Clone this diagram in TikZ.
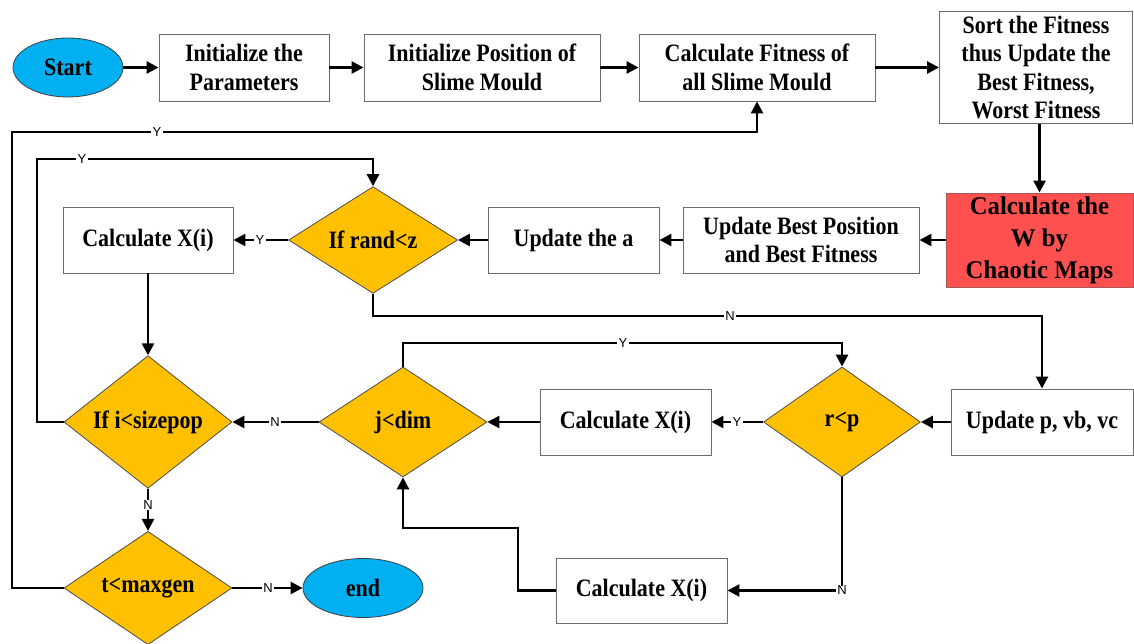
\documentclass[tikz,border=0pt]{standalone}
\usepackage{fontspec}
\setmainfont{Liberation Serif}[FakeStretch=0.88]
\newfontfamily\widefont{Liberation Serif}[FakeStretch=0.97]
\setsansfont{Liberation Sans}
\usetikzlibrary{shapes.geometric,arrows.meta}

\definecolor{decgold}{HTML}{FFC000}
\definecolor{termblue}{HTML}{00B0F0}
\definecolor{chaosred}{HTML}{FF5050}

\begin{document}
\begin{tikzpicture}[x=1pt,y=-1pt,
  every node/.style={font=\bfseries\fontsize{25}{28.5}\selectfont, text=black},
  proc/.style={rectangle, draw=gray!85!black, line width=0.9pt, fill=white, align=center, inner sep=0pt},
  decision/.style={diamond, draw=gray!60!black, line width=0.8pt, fill=decgold, inner sep=0pt,
                   minimum width=168pt, minimum height=110pt},
  terminal/.style={ellipse, draw=black!75, line width=0.8pt, fill=termblue, inner sep=0pt},
  flow/.style={line width=2.6pt, -{Triangle[length=12pt,width=12pt]}},
  cond/.style={font=\sffamily\fontsize{13}{13}\selectfont, fill=white, inner xsep=1.2pt, inner ysep=0.5pt}
]
\useasboundingbox (0,0) rectangle (1134,644);

% top row
\node[terminal, minimum width=110pt, minimum height=59pt] (start) at (68,67.5) {Start};
\node[proc, minimum width=170pt, minimum height=67pt] (init) at (244,67.5) {Initialize the\\Parameters};
\node[proc, minimum width=236pt, minimum height=67pt] (initpos) at (482,67.5) {Initialize Position of\\Slime Mould};
\node[proc, minimum width=236pt, minimum height=67pt] (calcfit) at (757,67.5) {Calculate Fitness of\\all Slime Mould};
\node[proc, minimum width=193pt, minimum height=112pt] (sort) at (1036,67.5) {Sort the Fitness\\thus Update the\\Best Fitness,\\Worst Fitness};

% second row
\node[proc, fill=chaosred, draw=gray!70!red, minimum width=187pt, minimum height=94pt,
      font=\widefont\bfseries\fontsize{25.5}{32}\selectfont] (chaos) at (1039.5,240) {Calculate the\\W by\\Chaotic Maps};
\node[proc, minimum width=236pt, minimum height=66pt] (upbest) at (801,240) {Update Best Position\\and Best Fitness};
\node[proc, minimum width=171pt, minimum height=66pt] (upa) at (573.5,240) {Update the a};
\node[decision, minimum width=169pt, minimum height=101pt] (rand) at (373,240) {If rand<z};
\node[proc, minimum width=170pt, minimum height=66pt] (calcx1) at (148,240) {Calculate X(i)};

% third row
\node[decision] (sizepop) at (148,422) {If i<sizepop};
\node[decision] (jdim) at (403,422) {j<dim};
\node[proc, minimum width=171pt, minimum height=66pt] (calcx2) at (625.5,422) {Calculate X(i)};
\node[decision, minimum width=157pt] (rp) at (842,422) {r<p};
\node[proc, minimum width=182pt, minimum height=66pt] (updp) at (1042,422) {Update p, vb, vc};

% bottom row
\node[decision] (tmax) at (148,588) {t<maxgen};
\node[terminal, minimum width=120pt, minimum height=59pt] (end) at (363,588) {end};
\node[proc, minimum width=171pt, minimum height=65pt] (calcx3) at (641.5,590.5) {Calculate X(i)};

% bend points of the loops
\coordinate (outerloop) at (12,132);
\coordinate (innerloop) at (37,159);
\coordinate (nrow) at (0,316);
\coordinate (yrow) at (0,343);
\coordinate (lowbend) at (518,528);

% main sequence
\draw[flow] (start.east) -- (init.west);
\draw[flow] (init.east) -- (initpos.west);
\draw[flow] (initpos.east) -- (calcfit.west);
\draw[flow] (calcfit.east) -- (sort.west);
\draw[flow] (chaos.north |- sort.south) -- (chaos.north);
\draw[flow] (chaos.west) -- (upbest.east);
\draw[flow] (upbest.west) -- (upa.east);
\draw[flow] (upa.west) -- (rand.east);
\draw[flow] (rand.west) -- (calcx1.east);
\draw[flow] (calcx1.south) -- (sizepop.north);

% branch N of rand<z
\draw[flow] (rand.south) |- (updp.north |- nrow) -- (updp.north);
\draw[flow] (updp.west) -- (rp.east);
\draw[flow] (rp.west) -- (calcx2.east);
\draw[flow] (calcx2.west) -- (jdim.east);
\draw[flow] (rp.south) |- (calcx3.east);
\draw[flow] (calcx3.west) -| (lowbend) -| (jdim.south);
\draw[flow] (jdim.north) |- (rp.north |- yrow) -- (rp.north);
\draw[flow] (jdim.west) -- (sizepop.east);

% loops back
\draw[flow] (sizepop.west) -| (innerloop) -| (rand.north);
\draw[flow] (sizepop.south) -- (tmax.north);
\draw[flow] (tmax.east) -- (end.west);
\draw[flow] (tmax.west) -| (outerloop) -| (calcfit.south);

% branch labels
\node[cond] at (157,132) {Y};
\node[cond] at (82,159) {Y};
\node[cond] at (260,240) {Y};
\node[cond] at (730,316) {N};
\node[cond] at (623,343) {Y};
\node[cond] at (737,422) {Y};
\node[cond] at (275,422) {N};
\node[cond] at (148,505) {N};
\node[cond] at (268,588) {N};
\node[cond] at (842,590.5) {N};
\end{tikzpicture}
\end{document}
